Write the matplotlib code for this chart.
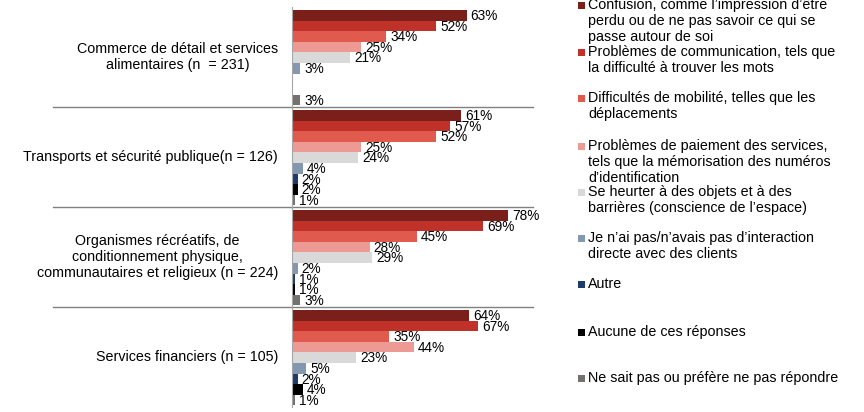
import matplotlib
matplotlib.use("Agg")
import matplotlib.pyplot as plt
from matplotlib.patches import Rectangle

plt.rcParams['font.family'] = ['Liberation Sans', 'DejaVu Sans']

categories = [
    "Commerce de détail et services\nalimentaires (n  = 231)",
    "Transports et sécurité publique(n = 126)",
    "Organismes récréatifs, de\nconditionnement physique,\ncommunautaires et religieux (n = 224)",
    "Services financiers (n = 105)",
]
series_names = [
    ["Confusion, comme l\u2019impression d\u2019être", "perdu ou de ne pas savoir ce qui se", "passe autour de soi"],
    ["Problèmes de communication, tels que", "la difficulté à trouver les mots"],
    ["Difficultés de mobilité, telles que les", "déplacements"],
    ["Problèmes de paiement des services,", "tels que la mémorisation des numéros", "d\u2019identification"],
    ["Se heurter à des objets et à des", "barrières (conscience de l\u2019espace)"],
    ["Je n\u2019ai pas/n\u2019avais pas d\u2019interaction", "directe avec des clients"],
    ["Autre"],
    ["Aucune de ces réponses"],
    ["Ne sait pas ou préfère ne pas répondre"],
]
colors = ["#7B1F1A", "#C0312A", "#E05A4D", "#EE9A94", "#D9D9D9",
          "#8497B0", "#1F3B6E", "#000000", "#767171"]

commerce = [63, 52, 34, 25, 21, 3, 0, 0, 3]
transports = [61, 57, 52, 25, 24, 4, 2, 2, 1]
organismes = [78, 69, 45, 28, 29, 2, 1, 1, 3]
financiers = [64, 67, 35, 44, 23, 5, 2, 4, 1]
values = [commerce, transports, organismes, financiers]

W, H = 864, 412
fig = plt.figure(figsize=(W / 100, H / 100), dpi=100)
ax_left, ax_right, ax_top, ax_bot = 292, 533, 7, 407
ax = fig.add_axes([ax_left / W, 1 - ax_bot / H, (ax_right - ax_left) / W, (ax_bot - ax_top) / H])

fs = 10.3
fs_lab = 9.8
bh = 0.106
margin = 0.03
xmax = 87
for g, vals in enumerate(values):
    for j, v in enumerate(vals):
        y = g + margin + (j + 0.5) * bh
        ax.barh(y, v if v > 0 else 0.25, height=bh, color=colors[j], linewidth=0)
        if v > 0:
            ax.annotate(f"{v}%", (v, y), xytext=(3, -0.5), textcoords="offset points",
                        va="center", ha="left", fontsize=fs_lab, color="#000000")

ax.set_xlim(0, xmax)
ax.set_ylim(4, 0)
ax.set_xticks([])
ax.set_yticks([])
for s in ["top", "right", "bottom"]:
    ax.spines[s].set_visible(False)
ax.spines["left"].set_color("#A6A6A6")
ax.spines["left"].set_linewidth(0.8)

# separators extending into label area
x0 = (53 - ax_left) / (ax_right - ax_left)
for g in range(1, 4):
    ax.plot([x0, 1], [g, g], transform=ax.get_yaxis_transform(), color="#808080",
            lw=1.0, clip_on=False)

# category labels
xl = (278 - ax_left) / (ax_right - ax_left)
for g, cat in enumerate(categories):
    ax.text(xl, g + 0.5, cat, transform=ax.get_yaxis_transform(), ha="right", va="center",
            multialignment="center", fontsize=fs, color="#000000", linespacing=1.2)

# legend
first_y = [5, 52, 98, 146, 192, 238, 284, 332, 378]
line_h = 16
for i, lines in enumerate(series_names):
    yc = first_y[i]
    fig.patches.append(Rectangle((578 / W, 1 - (yc + 3.5) / H), 7 / W, 7 / H,
                                 transform=fig.transFigure, facecolor=colors[i],
                                 edgecolor="none"))
    for k, line in enumerate(lines):
        fig.text(588 / W, 1 - (yc + k * line_h) / H, line, ha="left", va="center",
                 fontsize=fs, color="#000000")

fig.savefig("out.png", dpi=100, facecolor="white")
